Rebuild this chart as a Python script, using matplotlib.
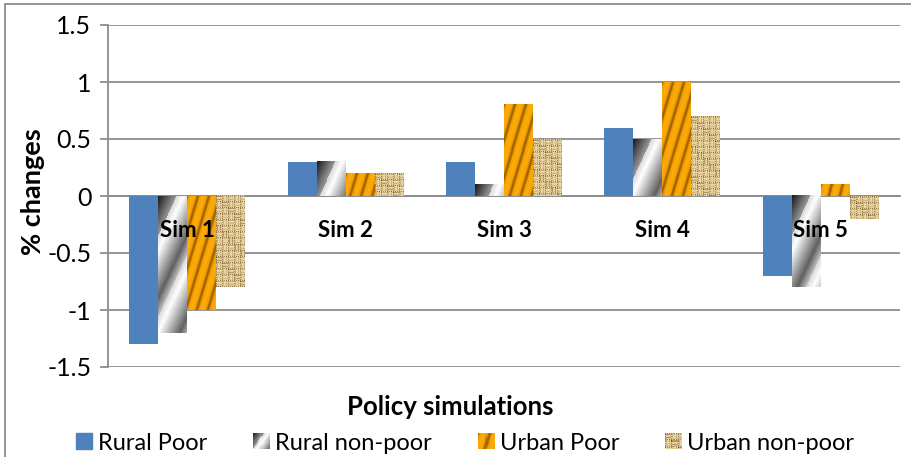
import numpy as np
import matplotlib
matplotlib.use("Agg")
import matplotlib.pyplot as plt
from matplotlib.patches import Rectangle
from matplotlib.image import BboxImage
from matplotlib.transforms import Bbox, TransformedBbox

plt.rcParams['font.family'] = ['Lato', 'DejaVu Sans']
plt.rcParams['axes.unicode_minus'] = False

# data
categories = ['Sim 1', 'Sim 2', 'Sim 3', 'Sim 4', 'Sim 5']
series_names = ['Rural Poor', 'Rural non-poor', 'Urban Poor', 'Urban non-poor']
rural_poor = [-1.3, 0.3, 0.3, 0.6, -0.7]
rural_nonpoor = [-1.2, 0.3, 0.1, 0.5, -0.8]
urban_poor = [-1.0, 0.2, 0.8, 1.0, 0.1]
urban_nonpoor = [-0.8, 0.2, 0.5, 0.7, -0.2]
y_ticks = [-1.5, -1, -0.5, 0, 0.5, 1, 1.5]
y_ticklabels = ['-1.5', '-1', '-0.5', '0', '0.5', '1', '1.5']

GRID = '#8c8c8c'
BLUE = '#4F81BD'


def interp_arr(v, xp, fp):
    return np.interp(v.ravel(), xp, fp).reshape(v.shape)


# textures (fill patterns for the fancy Excel fills)
def tex_metal(h, w, diag=40.0):
    y, x = np.mgrid[0:h, 0:w] + 0.5
    s = (x + 0.64 * w * y / diag) / w - 0.64
    dark = interp_arr(s, [-0.64, 0], [0.08, 0.6])
    t = np.mod(np.clip(s, 0, None), 1.3)
    bright = interp_arr(t, [0, 0.25, 1.0, 1.3], [0.85, 1.0, 0.38, 0.75])
    g = np.where(s < 0, dark, bright)
    return np.dstack([g, g, g])


def tex_orange(h, w):
    y, x = np.mgrid[0:h, 0:w] + 0.5
    ph = (x + 0.3 * y) / 11.0
    c = np.cos(2 * np.pi * ph)
    dark = (np.clip(c, 0, 1) ** 2)[..., None]
    light = (np.clip(-c, 0, 1) ** 2)[..., None]
    base = np.array([0.97, 0.64, 0.0])
    dk = np.array([0.62, 0.38, 0.0])
    lt = np.array([1.0, 0.70, 0.08])
    img = base * (1 - dark) + dk * dark
    img = img * (1 - 0.6 * light) + lt * 0.6 * light
    return np.clip(img, 0, 1)


def tex_burlap(h, w):
    y, x = np.mgrid[0:h, 0:w]
    blk = ((y // 6) + (x // 6)) % 2
    th_h = 0.5 + 0.5 * np.cos(2 * np.pi * (y + 0.5) / 3.0)
    th_v = 0.5 + 0.5 * np.cos(2 * np.pi * (x + 0.5) / 3.0)
    thread = np.where(blk == 0, th_h, th_v)
    gap = ((y % 6 == 0) & (x % 2 == 0)) | ((x % 6 == 0) & (y % 2 == 1))
    spot = ((y // 6) * 7 + (x // 6) * 3) % 5 == 0
    v = 0.72 + 0.28 * thread - 0.5 * gap - 0.2 * spot * (1 - thread)
    light = np.array([0.95, 0.87, 0.66])
    dark = np.array([0.42, 0.30, 0.14])
    v = np.clip(v, 0, 1)[..., None]
    return dark + (light - dark) * v


textures = [None, tex_metal, tex_orange, tex_burlap]

fig = plt.figure(figsize=(9.12, 4.57), dpi=100)
W, H = 912, 457
ax = fig.add_axes([108 / W, 1 - 367 / H, (900 - 108) / W, (367 - 25) / H])

x = np.arange(len(categories))
bw = 0.183
all_series = [rural_poor, rural_nonpoor, urban_poor, urban_nonpoor]
offsets = [-1.5, -0.5, 0.5, 1.5]

ax.spines['bottom'].set_position(('data', 0))
ax.set_xlim(-0.5, len(categories) - 0.5)
ax.set_ylim(-1.5, 1.5)

bars = []
for i, vals in enumerate(all_series):
    color = BLUE if i == 0 else 'none'
    b = ax.bar(x + offsets[i] * bw, vals, bw, color=color, linewidth=0, zorder=1)
    bars.append(b)

fig.canvas.draw()
for i, b in enumerate(bars):
    if textures[i] is None:
        continue
    for rect in b.patches:
        x0 = rect.get_x()
        x1 = x0 + rect.get_width()
        y0 = min(rect.get_y(), rect.get_y() + rect.get_height())
        y1 = max(rect.get_y(), rect.get_y() + rect.get_height())
        p = ax.transData.transform([[x0, y0], [x1, y1]])
        wpx = max(int(round(abs(p[1, 0] - p[0, 0]))), 1)
        hpx = max(int(round(abs(p[1, 1] - p[0, 1]))), 1)
        img = textures[i](hpx, wpx)
        ax.imshow(img, extent=(x0, x1, y0, y1), origin='upper', aspect='auto',
                  interpolation='nearest', zorder=1.2)

ax.set_xlim(-0.5, len(categories) - 0.5)
ax.set_ylim(-1.5, 1.5)

ax.set_yticks(y_ticks)
ax.set_yticklabels(y_ticklabels, fontsize=18)
ax.set_axisbelow(True)
ax.yaxis.grid(True, color=GRID, linewidth=1.3)
ax.tick_params(axis='y', length=6, width=1.3, color=GRID, pad=6)

ax.set_xticks(x)
ax.set_xticklabels(categories, fontsize=16, fontweight='bold')
ax.tick_params(axis='x', length=0, pad=17)
ax.xaxis.set_zorder(5)

ax.spines['bottom'].set_color(GRID)
ax.spines['bottom'].set_linewidth(1.3)
ax.spines['bottom'].set_zorder(0.6)
ax.spines['left'].set_color(GRID)
ax.spines['left'].set_linewidth(1.3)
ax.spines['top'].set_visible(False)
ax.spines['right'].set_visible(False)

fig.text(450 / W, 1 - 407 / H, 'Policy simulations', ha='center', va='center',
         fontsize=18.5, fontweight='bold')
fig.text(33 / W, 1 - 192 / H, '% changes', ha='center', va='center',
         rotation=90, fontsize=19.5, fontweight='bold')

# outer chart border
fig.add_artist(Rectangle((5.5 / W, -0.1), 2, 1 - 3.5 / H + 0.1, transform=fig.transFigure,
                         fill=False, edgecolor=GRID, linewidth=1.3))


# legend with texture swatches
class TexHandler:
    def __init__(self, fn):
        self.fn = fn

    def legend_artist(self, legend, orig_handle, fontsize, handlebox):
        x0, y0 = handlebox.xdescent, handlebox.ydescent
        w, h = handlebox.width, handlebox.height
        bb = TransformedBbox(Bbox.from_bounds(-x0, -y0, w, h), handlebox.get_transform())
        im = BboxImage(bb, interpolation='nearest')
        if self.fn is tex_metal:
            im.set_data(self.fn(15, 16, diag=15.0))
        else:
            im.set_data(self.fn(15, 16))
        handlebox.add_artist(im)
        return im


handles = [Rectangle((0, 0), 1, 1, color=BLUE)]
handler_map = {}
for fn in textures[1:]:
    hnd = Rectangle((0, 0), 1, 1, color='none')
    handles.append(hnd)
    handler_map[hnd] = TexHandler(fn)

fig.legend(handles, series_names, loc='center', bbox_to_anchor=(465 / W, 1 - 443 / H),
           ncol=4, frameon=False, fontsize=17, handlelength=0.68, handleheight=0.64,
           handletextpad=0.25, columnspacing=1.95, handler_map=handler_map)

fig.savefig('out.png', dpi=100)
